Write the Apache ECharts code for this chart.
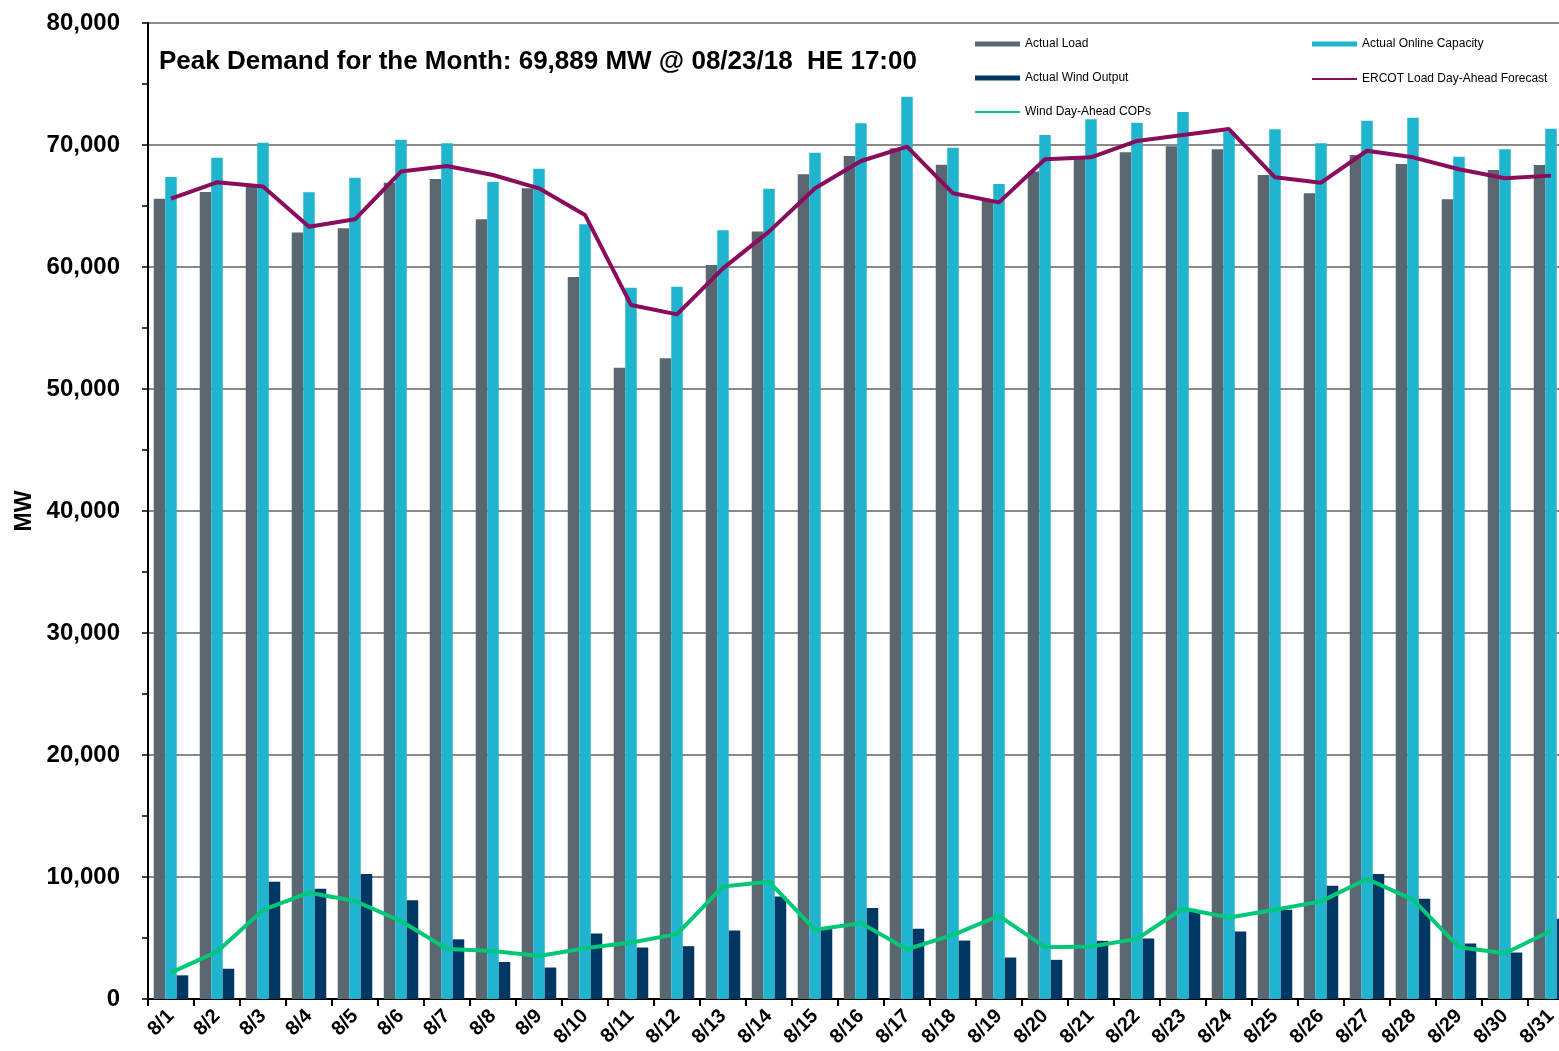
<!DOCTYPE html>
<html>
<head>
<meta charset="utf-8">
<script src="https://cdn.jsdelivr.net/npm/echarts@6/dist/echarts.min.js"></script>
<style>
  html, body { margin: 0; padding: 0; background: #fff; }
  #main { width: 1559px; height: 1051px; }
</style>
</head>
<body>
<div id="main"></div>
<script>
var days = ['8/1','8/2','8/3','8/4','8/5','8/6','8/7','8/8','8/9','8/10','8/11','8/12','8/13','8/14','8/15','8/16',
            '8/17','8/18','8/19','8/20','8/21','8/22','8/23','8/24','8/25','8/26','8/27','8/28','8/29','8/30','8/31'];

var actualLoad = [65600, 66150, 66600, 62820, 63170, 66910, 67220, 63910, 66450, 59180, 51750, 52520, 60170, 62900, 67600, 69100,
                  69730, 68390, 65490, 67820, 68860, 69400, 69889, 69650, 67540, 66040, 69180, 68440, 65550, 67950, 68360];

var onlineCapacity = [67380, 68960, 70190, 66130, 67320, 70440, 70140, 66970, 68060, 63500, 58300, 58390, 63010, 66420, 69370, 71780,
                      73960, 69780, 66800, 70820, 72110, 71830, 72700, 71100, 71290, 70140, 71990, 72240, 69040, 69650, 71340];

var windOutput = [1940, 2480, 9620, 9040, 10250, 8090, 4890, 3030, 2580, 5370, 4220, 4330, 5620, 8410, 5750, 7450,
                  5750, 4790, 3400, 3210, 4770, 4960, 7180, 5530, 7320, 9290, 10250, 8220, 4550, 3810, 6580];

var loadForecast = [65600, 66940, 66590, 63300, 63910, 67820, 68280, 67540, 66450, 64270, 56890, 56120, 59890, 62900, 66450, 68690,
                    69860, 66040, 65300, 68830, 68990, 70330, 70820, 71310, 67350, 66910, 69530, 68990, 68010, 67270, 67490];

var windCOPs = [2160, 3880, 7300, 8710, 8030, 6390, 4100, 3930, 3530, 4160, 4630, 5320, 9230, 9620, 5670, 6220,
                4080, 5260, 6820, 4250, 4300, 4930, 7420, 6680, 7320, 8000, 9840, 8140, 4250, 3750, 5590];

var yTicks = [0, 10000, 20000, 30000, 40000, 50000, 60000, 70000, 80000];

var FONT = 'Liberation Sans, Arial, sans-serif';
var C_LOAD = '#5a6670', C_CAP = '#21b4ce', C_WIND = '#003764', C_FC = '#8a0c5c', C_COP = '#00c878';

var myChart = echarts.init(document.getElementById('main'));

function legendAt(name, left, top, h) {
    return {
        data: [{ name: name, icon: 'rect' }],
        left: left, top: top,
        itemWidth: 45, itemHeight: h,
        textStyle: { fontFamily: FONT, fontSize: 12, color: '#000' },
        selectedMode: false
    };
}

var option = {
    backgroundColor: '#fff',
    animation: false,
    title: {
        text: 'Peak Demand for the Month: 69,889 MW @ 08/23/18  HE 17:00',
        left: 154, top: 44,
        textStyle: { fontFamily: FONT, fontSize: 26, fontWeight: 'bold', color: '#000' }
    },
    legend: [
        legendAt('Actual Load', 970, 33, 5),
        legendAt('Actual Online Capacity', 1307, 33, 5),
        legendAt('Actual Wind Output', 970, 67, 5),
        legendAt('ERCOT Load Day-Ahead Forecast', 1307, 68, 2),
        legendAt('Wind Day-Ahead COPs', 970, 101, 2)
    ],
    grid: {
        left: 148, top: 23, width: 1426, height: 976,
        outerBoundsMode: 'none',
        show: true, borderColor: '#000', borderWidth: 2
    },
    xAxis: {
        type: 'category',
        data: days,
        axisLine: { lineStyle: { color: '#000', width: 2 } },
        axisTick: { show: true, length: 7, lineStyle: { color: '#000', width: 2 } },
        axisLabel: {
            rotate: 45, interval: 0, margin: 14,
            fontFamily: FONT, fontSize: 20, fontWeight: 'bold', color: '#000'
        }
    },
    yAxis: {
        type: 'value',
        min: yTicks[0], max: yTicks[yTicks.length - 1], interval: 10000,
        name: 'MW',
        nameLocation: 'middle',
        nameGap: 110,
        nameTextStyle: { fontFamily: FONT, fontSize: 23, fontWeight: 'bold', color: '#000' },
        axisLine: { show: true, lineStyle: { color: '#000', width: 2 } },
        axisTick: { show: true, length: 6, lineStyle: { color: '#000', width: 1.5 } },
        minorTick: { show: true, splitNumber: 2, length: 6, lineStyle: { color: '#000', width: 1.5 } },
        axisLabel: {
            margin: 28,
            fontFamily: FONT, fontSize: 24, fontWeight: 'bold', color: '#000',
            formatter: function (v) { return v.toLocaleString('en-US'); }
        },
        splitLine: { show: true, lineStyle: { color: '#8a8a8a', width: 2 } }
    },
    series: [
        { name: 'Actual Load', type: 'bar', data: actualLoad, barWidth: 11.5, barGap: '0%',
          itemStyle: { color: C_LOAD } },
        { name: 'Actual Online Capacity', type: 'bar', data: onlineCapacity, barWidth: 11.5, barGap: '0%',
          itemStyle: { color: C_CAP } },
        { name: 'Actual Wind Output', type: 'bar', data: windOutput, barWidth: 11.5, barGap: '0%',
          itemStyle: { color: C_WIND } },
        { name: 'ERCOT Load Day-Ahead Forecast', type: 'line', data: loadForecast, symbol: 'none',
          lineStyle: { color: C_FC, width: 4 }, itemStyle: { color: C_FC } },
        { name: 'Wind Day-Ahead COPs', type: 'line', data: windCOPs, symbol: 'none',
          lineStyle: { color: C_COP, width: 4 }, itemStyle: { color: C_COP } }
    ]
};

myChart.setOption(option);
</script>
</body>
</html>
